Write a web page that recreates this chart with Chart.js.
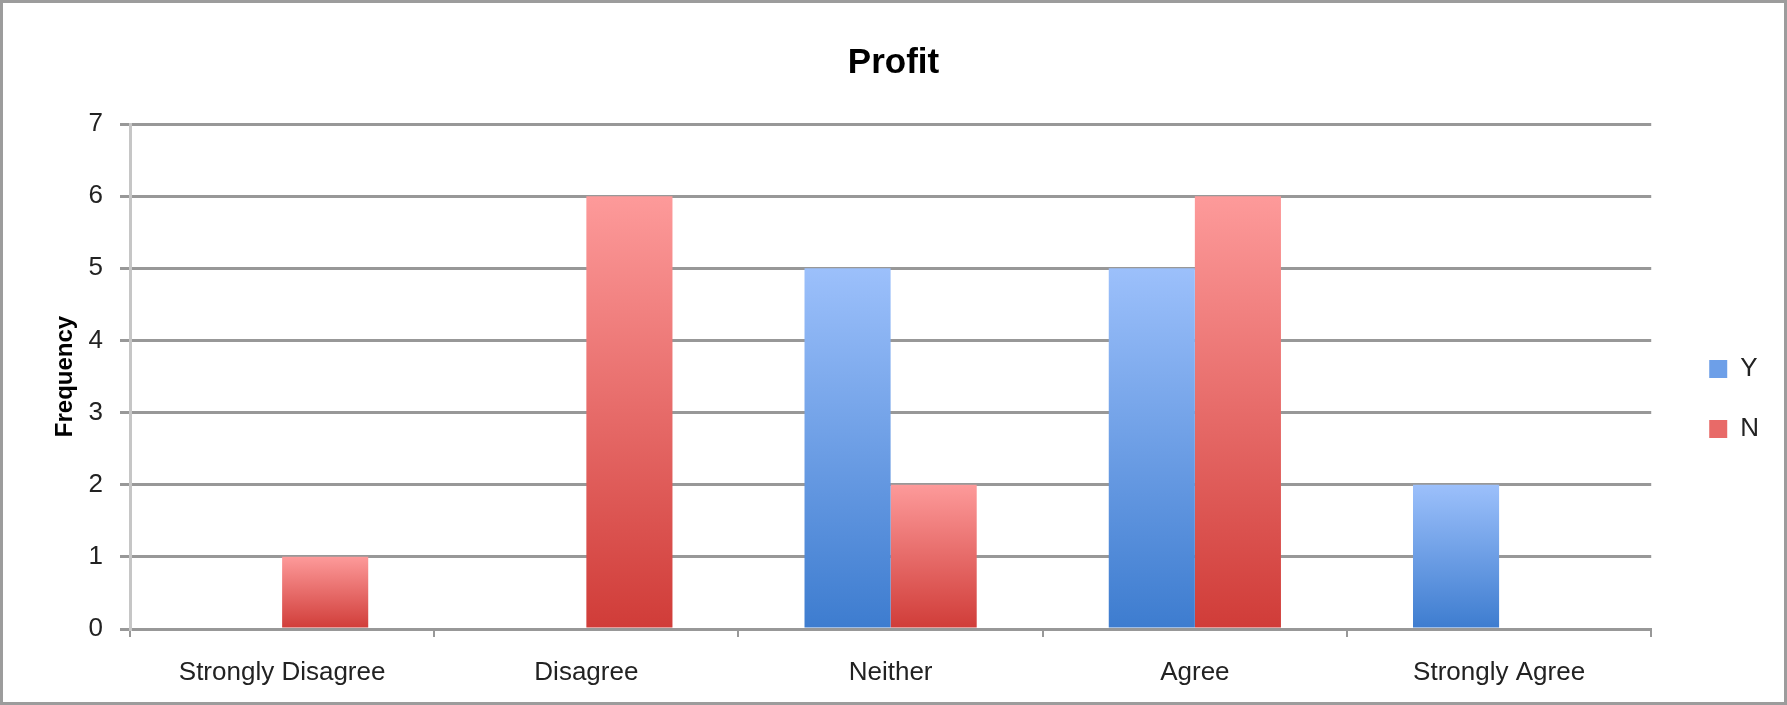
<!DOCTYPE html>
<html>
<head>
    <title>Profit</title>
    <script src="https://cdn.jsdelivr.net/npm/chart.js"></script>
    <style>
        body { margin: 0; background: #fff; }
        #wrap { position: relative; width: 1787px; height: 705px; box-sizing: border-box; border: 3px solid #9c9c9c; }
    </style>
</head>
<body>
    <div id="wrap"><canvas id="profitChart"></canvas></div>

    <script>
        const categories = ['Strongly Disagree', 'Disagree', 'Neither', 'Agree', 'Strongly Agree'];
        const yValues = [0, 0, 5, 5, 2];
        const nValues = [1, 6, 2, 6, 0];
        const yTicks = [0, 1, 2, 3, 4, 5, 6, 7];

        const fontFamily = '"Liberation Sans", Arial, sans-serif';
        const gridGray = '#989898';

        // vertical gradient per bar, from its top down to the baseline
        function barGradient(top, bottom) {
            return function(context) {
                const chart = context.chart;
                if (!chart.chartArea || context.raw === undefined) return bottom;
                const yScale = chart.scales.y;
                const y0 = yScale.getPixelForValue(context.raw);
                const y1 = yScale.getPixelForValue(0);
                if (y1 - y0 < 1) return bottom;
                const g = chart.ctx.createLinearGradient(0, y0, 0, y1);
                g.addColorStop(0, top);
                g.addColorStop(1, bottom);
                return g;
            };
        }

        const legendColors = ['#6d9fe8', '#e86a68'];

        // move the legend a bit away from the plot
        const legendNudge = {
            id: 'legendNudge',
            afterLayout(chart) {
                const lg = chart.legend;
                if (!lg) return;
                lg.left += 24; lg.right += 24;
                lg.top += 55; lg.bottom += 55;
            }
        };

        const ctx = document.getElementById('profitChart').getContext('2d');
        new Chart(ctx, {
            type: 'bar',
            data: {
                labels: categories,
                datasets: [{
                    label: 'Y',
                    data: yValues,
                    backgroundColor: barGradient('#9cc0fb', '#3d7ccf'),
                    borderWidth: 0
                }, {
                    label: 'N',
                    data: nValues,
                    backgroundColor: barGradient('#fd9a9a', '#d03c38'),
                    borderWidth: 0
                }]
            },
            plugins: [legendNudge],
            options: {
                responsive: true,
                maintainAspectRatio: false,
                animation: false,
                datasets: {
                    bar: { categoryPercentage: 0.566, barPercentage: 1 }
                },
                layout: { padding: { left: 39, right: 39, top: 0, bottom: 17 } },
                plugins: {
                    title: {
                        display: true,
                        text: 'Profit',
                        color: '#000',
                        font: { family: fontFamily, size: 35, weight: 'bold' },
                        padding: { top: 39, bottom: 40 }
                    },
                    legend: {
                        position: 'right',
                        labels: {
                            boxWidth: 18,
                            boxHeight: 18,
                            padding: 34,
                            color: '#222',
                            font: { family: fontFamily, size: 26 },
                            generateLabels(chart) {
                                const items = Chart.defaults.plugins.legend.labels.generateLabels(chart);
                                items.forEach((it, i) => {
                                    it.fillStyle = legendColors[i];
                                    it.strokeStyle = legendColors[i];
                                    it.lineWidth = 0;
                                });
                                return items;
                            }
                        }
                    },
                    tooltip: { enabled: false }
                },
                scales: {
                    x: {
                        afterFit(scale) {
                            scale.height = 56;
                        },
                        grid: {
                            drawOnChartArea: false,
                            drawTicks: true,
                            tickLength: 8,
                            color: gridGray,
                            lineWidth: 2
                        },
                        border: { color: gridGray, width: 3 },
                        ticks: {
                            color: '#222',
                            padding: 20,
                            maxRotation: 0,
                            font: { family: fontFamily, size: 26 }
                        }
                    },
                    y: {
                        min: 0,
                        max: 7,
                        afterBuildTicks(scale) {
                            scale.ticks = yTicks.map(v => ({ value: v }));
                        },
                        afterFit(scale) {
                            scale.width = 88;
                        },
                        grid: {
                            color: gridGray,
                            lineWidth: 3,
                            tickLength: 10,
                            tickColor: gridGray
                        },
                        border: { color: '#c6c6c6', width: 3 },
                        ticks: {
                            color: '#222',
                            padding: 17,
                            font: { family: fontFamily, size: 26 }
                        },
                        title: {
                            display: true,
                            text: 'Frequency',
                            color: '#000',
                            font: { family: fontFamily, size: 24, weight: 'bold' },
                            padding: { top: 9, bottom: 0 }
                        }
                    }
                }
            }
        });
    </script>
</body>
</html>
